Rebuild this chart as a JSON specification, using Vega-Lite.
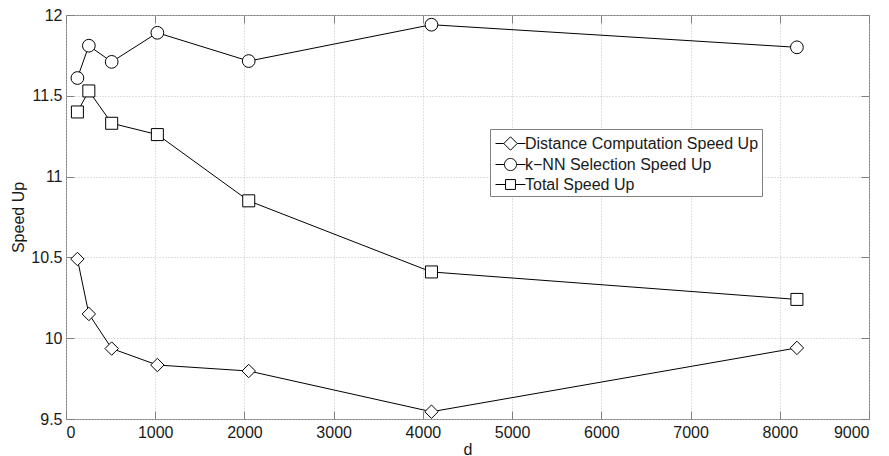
{
  "$schema": "https://vega.github.io/schema/vega-lite/v6.json",
  "width": 803,
  "height": 404,
  "autosize": {"type": "none"},
  "padding": {"left": 66, "top": 15, "right": 20, "bottom": 37},
  "background": "white",
  "config": {
    "font": "Liberation Sans",
    "view": {"stroke": "#808080", "strokeWidth": 1},
    "axis": {
      "domain": false,
      "tickColor": "#808080",
      "tickSize": -8,
      "labelFont": "Liberation Sans",
      "labelFontSize": 16,
      "labelColor": "#1a1a1a",
      "titleFont": "Liberation Sans",
      "titleFontSize": 16,
      "titleFontWeight": "normal",
      "titleColor": "#1a1a1a",
      "gridColor": "#c0c0c0",
      "gridDash": [1, 2],
      "gridWidth": 1
    }
  },
  "data": {
    "values": [
      {"d": 128, "speedup": 10.49, "series": "Distance Computation Speed Up"},
      {"d": 256, "speedup": 10.15, "series": "Distance Computation Speed Up"},
      {"d": 512, "speedup": 9.936, "series": "Distance Computation Speed Up"},
      {"d": 1024, "speedup": 9.834, "series": "Distance Computation Speed Up"},
      {"d": 2048, "speedup": 9.797, "series": "Distance Computation Speed Up"},
      {"d": 4096, "speedup": 9.545, "series": "Distance Computation Speed Up"},
      {"d": 8192, "speedup": 9.94, "series": "Distance Computation Speed Up"},
      {"d": 128, "speedup": 11.61, "series": "k−NN Selection Speed Up"},
      {"d": 256, "speedup": 11.81, "series": "k−NN Selection Speed Up"},
      {"d": 512, "speedup": 11.71, "series": "k−NN Selection Speed Up"},
      {"d": 1024, "speedup": 11.89, "series": "k−NN Selection Speed Up"},
      {"d": 2048, "speedup": 11.715, "series": "k−NN Selection Speed Up"},
      {"d": 4096, "speedup": 11.94, "series": "k−NN Selection Speed Up"},
      {"d": 8192, "speedup": 11.80, "series": "k−NN Selection Speed Up"},
      {"d": 128, "speedup": 11.40, "series": "Total Speed Up"},
      {"d": 256, "speedup": 11.53, "series": "Total Speed Up"},
      {"d": 512, "speedup": 11.33, "series": "Total Speed Up"},
      {"d": 1024, "speedup": 11.26, "series": "Total Speed Up"},
      {"d": 2048, "speedup": 10.85, "series": "Total Speed Up"},
      {"d": 4096, "speedup": 10.41, "series": "Total Speed Up"},
      {"d": 8192, "speedup": 10.24, "series": "Total Speed Up"}
    ]
  },
  "layer": [
    {
      "mark": {"type": "line", "color": "black", "strokeWidth": 1},
      "encoding": {
        "x": {
          "field": "d", "type": "quantitative",
          "scale": {"domain": [0, 9000], "nice": false, "zero": false},
          "axis": {"orient": "bottom", "title": "d", "values": [0, 1000, 2000, 3000, 4000, 5000, 6000, 7000, 8000, 9000], "format": "d", "labelPadding": 13, "titlePadding": 1, "grid": true}
        },
        "y": {
          "field": "speedup", "type": "quantitative",
          "scale": {"domain": [9.5, 12], "nice": false, "zero": false},
          "axis": {"orient": "left", "title": "Speed Up", "values": [9.5, 10, 10.5, 11, 11.5, 12], "format": "~g", "labelPadding": 12, "titlePadding": 4, "grid": true}
        },
        "detail": {"field": "series"}
      }
    },
    {
      "mark": {"type": "point", "filled": true, "fill": "white", "stroke": "black", "strokeWidth": 1, "opacity": 1},
      "encoding": {
        "x": {"field": "d", "type": "quantitative", "axis": null},
        "y": {"field": "speedup", "type": "quantitative", "axis": null},
        "shape": {
          "field": "series",
          "scale": {"domain": ["Distance Computation Speed Up", "k−NN Selection Speed Up", "Total Speed Up"], "range": ["diamond", "circle", "square"]},
          "legend": null
        },
        "size": {
          "field": "series",
          "scale": {"domain": ["Distance Computation Speed Up", "k−NN Selection Speed Up", "Total Speed Up"], "range": [180, 144, 100]},
          "legend": null
        }
      }
    },
    {
      "transform": [{"filter": "datum.d < 0"}],
      "mark": {"type": "point", "filled": false, "stroke": "black", "strokeWidth": 1, "opacity": 1, "size": 484},
      "encoding": {
        "x": {"field": "d", "type": "quantitative", "axis": {"orient": "top", "title": null, "labels": false, "grid": false, "values": [0, 1000, 2000, 3000, 4000, 5000, 6000, 7000, 8000, 9000]}},
        "y": {"field": "speedup", "type": "quantitative", "axis": {"orient": "right", "title": null, "labels": false, "grid": false, "values": [9.5, 10, 10.5, 11, 11.5, 12]}},
        "shape": {
          "field": "series",
          "scale": {
            "domain": ["Distance Computation Speed Up", "k−NN Selection Speed Up", "Total Speed Up"],
            "range": [
              "M-1.36,0H-0.61M0.61,0H1.36M0,-0.61L0.61,0L0,0.61L-0.61,0Z",
              "M-1.36,0H-0.55M0.55,0H1.36M0.55,0A0.55,0.55 0 1,1 -0.55,0A0.55,0.55 0 1,1 0.55,0Z",
              "M-1.36,0H-0.45M0.45,0H1.36M-0.45,-0.45H0.45V0.45H-0.45Z"
            ]
          },
          "legend": {
            "title": null,
            "orient": "none",
            "legendX": 424,
            "legendY": 114,
            "padding": 3,
            "symbolOffset": 6,
            "symbolSize": 484,
            "symbolStrokeWidth": 1,
            "symbolStrokeColor": "black",
            "symbolFillColor": "white",
            "labelFont": "Liberation Sans",
            "labelFontSize": 16,
            "labelColor": "#1a1a1a",
            "labelOffset": 3,
            "rowPadding": 0,
            "strokeColor": "#808080",
            "fillColor": "white",
            "labelLimit": 400,
            "encoding": {
              "symbols": {
                "update": {
                  "stroke": {"value": "black"},
                  "fill": {"value": "white"},
                  "strokeWidth": {"value": 1},
                  "opacity": {"value": 1},
                  "size": {"value": 484}
                }
              }
            }
          }
        }
      }
    }
  ],
  "resolve": {
    "scale": {"shape": "independent", "size": "independent"},
    "axis": {"x": "independent", "y": "independent"}
  }
}
